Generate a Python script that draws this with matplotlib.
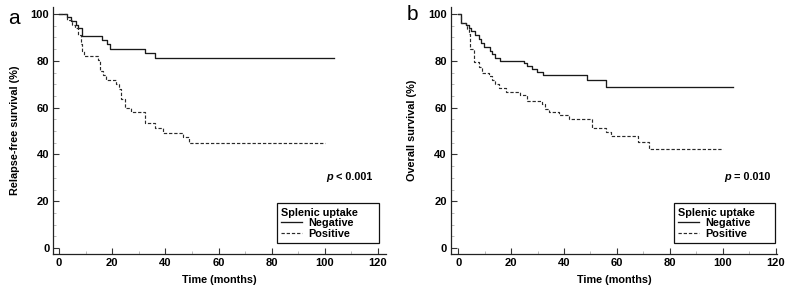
import matplotlib
matplotlib.use("Agg")
import matplotlib.pyplot as plt
from matplotlib.ticker import MultipleLocator

plt.rcParams["font.family"] = ["Liberation Sans", "DejaVu Sans"]
plt.rcParams["font.weight"] = "bold"
plt.rcParams["axes.labelweight"] = "bold"

# panel a: relapse-free survival
rfs_neg_t = [0, 3.1, 4.6, 6.3, 7.3, 8.8, 16.3, 18.0, 19.1, 32.2, 36.2, 103.4]
rfs_neg_s = [100, 98.8, 97.0, 95.5, 94.0, 90.6, 88.8, 87.0, 85.2, 83.2, 81.2, 81.2]
rfs_pos_t = [0, 2.8, 5.0, 6.0, 7.3, 8.3, 8.8, 9.3, 14.5, 15.5, 16.6, 17.6, 21.4,
             22.6, 23.2, 24.9, 27.0, 32.2, 36.2, 39.0, 46.8, 48.8, 100]
rfs_pos_s = [100, 97.5, 95.5, 93.8, 91.0, 87.0, 84.0, 82.0, 80.2, 75.5, 73.8, 71.6, 70.0,
             68.0, 63.5, 60.0, 58.3, 53.3, 51.4, 49.3, 47.3, 44.7, 44.7]

# panel b: overall survival
os_neg_t = [0, 0.9, 2.8, 4.0, 5.0, 6.5, 7.8, 8.8, 9.7, 12.0, 12.8, 14.1, 16.0,
            24.8, 26.1, 28.0, 29.9, 32.0, 48.8, 56.0, 103.7]
os_neg_s = [100, 96.2, 95.4, 94.0, 92.6, 91.2, 89.5, 87.5, 85.7, 84.3, 82.8, 81.3, 80.0,
            78.9, 77.9, 76.5, 75.4, 74.1, 71.8, 68.9, 68.9]
os_pos_t = [0, 0.9, 2.8, 3.4, 4.0, 4.4, 5.9, 7.8, 9.0, 11.6, 12.8, 14.0, 15.5, 17.9,
            23.5, 26.1, 31.8, 33.0, 34.3, 38.0, 41.8, 50.6, 55.7, 57.6, 68.0, 72.0, 100]
os_pos_s = [100, 96.2, 95.4, 93.5, 91.5, 85.0, 79.3, 77.2, 75.0, 73.5, 71.7, 70.0, 68.5, 66.8,
            65.2, 62.8, 61.4, 59.5, 58.2, 56.8, 55.3, 51.5, 49.6, 47.7, 45.2, 42.2, 42.2]

fig = plt.figure(figsize=(7.9, 2.91), dpi=100)
ax_a = fig.add_axes([0.0677, 0.1271, 0.4209, 0.849])
ax_b = fig.add_axes([0.5709, 0.1271, 0.4127, 0.849])


def km_panel(ax, neg_t, neg_s, pos_t, pos_s, ylabel, ptxt, xlim, leg_box):
    ax.step(neg_t, neg_s, where="post", color="#1a1a1a", lw=0.95, label="Negative")
    ax.step(pos_t, pos_s, where="post", color="#2a2a2a", lw=0.85,
            linestyle=(0, (2.8, 1.6)), label="Positive")
    ax.set_xlim(*xlim)
    ax.set_ylim(-2.5, 103)
    ax.spines["top"].set_visible(False)
    ax.spines["right"].set_visible(False)
    for s in ("left", "bottom"):
        ax.spines[s].set_linewidth(0.9)
        ax.spines[s].set_color("#222222")
    ax.xaxis.set_major_locator(MultipleLocator(20))
    ax.xaxis.set_minor_locator(MultipleLocator(10))
    ax.yaxis.set_major_locator(MultipleLocator(20))
    ax.yaxis.set_minor_locator(MultipleLocator(5))
    ax.tick_params(which="major", direction="in", length=4.2, width=0.8,
                   color="#333333", labelsize=8, pad=3)
    ax.tick_params(which="minor", direction="in", length=2.5, width=0.7,
                   color="#bbbbbb")
    ax.set_xlabel("Time (months)", fontsize=7.8, labelpad=5)
    ax.set_ylabel(ylabel, fontsize=7.8, labelpad=8)

    t = ax.text(118, 30.3, ptxt, ha="right", va="center", fontsize=7.8)
    ax.annotate("p", xy=(0, 0.5), xycoords=t, xytext=(-2.5, 0),
                textcoords="offset points", ha="right", va="center",
                fontsize=7.8, style="italic")

    leg = ax.legend(loc="lower left", bbox_to_anchor=leg_box, mode="expand",
                    borderaxespad=0, title="Splenic uptake", fontsize=7.8,
                    title_fontsize=7.8, frameon=True, fancybox=False,
                    edgecolor="#111111", framealpha=1, handlelength=1.9,
                    handletextpad=0.6, labelspacing=0.05, borderpad=0.4,
                    alignment="left")
    leg.get_frame().set_linewidth(0.9)
    leg.get_title().set_fontweight("bold")


km_panel(ax_a, rfs_neg_t, rfs_neg_s, rfs_pos_t, rfs_pos_s,
         "Relapse-free survival (%)", "< 0.001", (-2.1, 123),
         (0.671, 0.0445, 0.308, 0.17))
km_panel(ax_b, os_neg_t, os_neg_s, os_pos_t, os_pos_s,
         "Overall survival (%)", "= 0.010", (-2.7, 120.5),
         (0.684, 0.0445, 0.31, 0.17))

fig.text(0.010, 0.918, "a", fontsize=15, fontweight="normal", va="baseline")
fig.text(0.515, 0.930, "b", fontsize=15, fontweight="normal", va="baseline")

fig.savefig("out.png", dpi=100)
